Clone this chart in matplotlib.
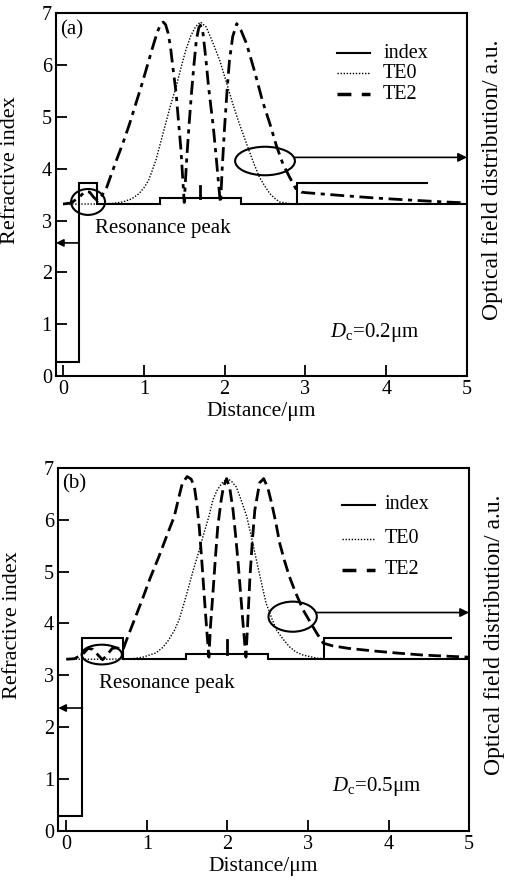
import matplotlib
matplotlib.use("Agg")
import matplotlib.pyplot as plt
from matplotlib.patches import Ellipse
from matplotlib.lines import Line2D

plt.rcParams['font.family'] = ['Liberation Serif', 'DejaVu Serif']
plt.rcParams['mathtext.fontset'] = 'custom'
plt.rcParams['mathtext.rm'] = 'Liberation Serif'
plt.rcParams['mathtext.it'] = 'Liberation Serif:italic'

# ---------------- data: panel (a), Dc = 0.2 um ----------------
a_index_x = [-0.2, 0.2, 0.2, 0.42, 0.42, 1.2, 1.2, 2.2, 2.2, 5.0]
a_index_y = [0.28, 0.28, 3.72, 3.72, 3.32, 3.32, 3.44, 3.44, 3.32, 3.32]
a_ridge_x = [2.9, 2.9, 4.5]
a_ridge_y = [3.32, 3.72, 3.72]
a_well_x = [1.7, 1.7]
a_well_y = [3.44, 3.66]

a_te0_x = [0.0, 0.4, 0.6, 0.74, 0.85, 0.94, 1.0, 1.06, 1.10, 1.15, 1.21, 1.27, 1.33,
           1.40, 1.46, 1.52, 1.58, 1.64, 1.70, 1.77, 1.85, 1.94, 2.02, 2.10, 2.18,
           2.27, 2.35, 2.43, 2.50, 2.56, 2.62, 2.68, 2.80, 2.90, 5.0]
a_te0_y = [3.32, 3.32, 3.33, 3.36, 3.42, 3.52, 3.63, 3.78, 3.95, 4.17, 4.52, 4.87, 5.22,
           5.58, 5.95, 6.29, 6.56, 6.74, 6.83, 6.74, 6.45, 6.09, 5.68, 5.26, 4.88,
           4.49, 4.15, 3.84, 3.66, 3.52, 3.43, 3.36, 3.33, 3.32, 3.32]

a_te2_x = [0.0, 0.1, 0.2, 0.27, 0.33, 0.38, 0.43, 0.48, 0.54, 0.60, 0.66, 0.74, 0.82,
           0.90, 0.98, 1.06, 1.12, 1.17, 1.21, 1.24, 1.27, 1.30, 1.33, 1.36, 1.40,
           1.43, 1.46, 1.48, 1.50, 1.53, 1.56, 1.59, 1.62, 1.65, 1.68, 1.70, 1.73,
           1.77, 1.80, 1.83, 1.86, 1.90, 1.94, 1.95, 1.97, 2.00, 2.03, 2.06, 2.10,
           2.15, 2.20, 2.27, 2.33, 2.39, 2.47, 2.56, 2.64, 2.72, 2.80, 2.88, 2.95,
           3.0, 3.4, 3.83, 4.25, 4.6, 5.0]
a_te2_y = [3.32, 3.34, 3.45, 3.56, 3.55, 3.45, 3.38, 3.48, 3.64, 3.90, 4.16, 4.49, 4.85,
           5.25, 5.65, 6.08, 6.40, 6.65, 6.79, 6.83, 6.78, 6.62, 6.35, 5.95, 5.46,
           4.90, 4.36, 3.85, 3.35, 4.17, 4.85, 5.46, 6.00, 6.48, 6.72, 6.77, 6.65,
           6.09, 5.60, 5.20, 4.81, 4.15, 3.46, 3.34, 4.00, 4.81, 5.50, 6.09, 6.55,
           6.80, 6.68, 6.42, 6.10, 5.77, 5.30, 4.87, 4.45, 4.10, 3.85, 3.62, 3.55,
           3.54, 3.49, 3.44, 3.40, 3.37, 3.34]

# ---------------- data: panel (b), Dc = 0.5 um ----------------
b_index_x = [-0.2, 0.2, 0.2, 0.7, 0.7, 1.48, 1.48, 2.5, 2.5, 5.0]
b_index_y = [0.28, 0.28, 3.72, 3.72, 3.31, 3.31, 3.42, 3.42, 3.31, 3.31]
b_ridge_x = [3.2, 3.2, 4.78]
b_ridge_y = [3.31, 3.72, 3.72]
b_well_x = [2.0, 2.0]
b_well_y = [3.42, 3.68]

b_te0_x = [0.0, 0.5, 0.82, 0.95, 1.11, 1.20, 1.27, 1.34, 1.40, 1.46, 1.52, 1.58, 1.65,
           1.71, 1.77, 1.82, 1.87, 1.93, 2.00, 2.05, 2.11, 2.17, 2.24, 2.30, 2.36,
           2.42, 2.48, 2.55, 2.61, 2.69, 2.77, 2.85, 2.94, 3.11, 3.3, 5.0]
b_te0_y = [3.31, 3.31, 3.32, 3.35, 3.43, 3.54, 3.68, 3.86, 4.07, 4.38, 4.71, 5.05, 5.41,
           5.75, 6.06, 6.38, 6.56, 6.70, 6.79, 6.74, 6.63, 6.38, 6.06, 5.65, 5.22,
           4.80, 4.39, 4.10, 3.87, 3.70, 3.55, 3.45, 3.39, 3.33, 3.31, 3.31]

b_te2_x = [0.0, 0.1, 0.2, 0.27, 0.33, 0.40, 0.45, 0.50, 0.57, 0.63, 0.70, 0.74, 0.84,
           0.94, 1.04, 1.15, 1.25, 1.34, 1.40, 1.44, 1.50, 1.55, 1.59, 1.62, 1.65,
           1.68, 1.71, 1.73, 1.75, 1.77, 1.79, 1.82, 1.85, 1.88, 1.92, 1.95, 1.99,
           2.03, 2.07, 2.10, 2.13, 2.16, 2.19, 2.21, 2.23, 2.25, 2.28, 2.31, 2.34,
           2.40, 2.45, 2.50, 2.55, 2.60, 2.65, 2.71, 2.77, 2.85, 2.94, 3.03, 3.11,
           3.19, 3.30, 3.50, 3.81, 4.10, 4.43, 4.70, 5.0]
b_te2_y = [3.31, 3.32, 3.40, 3.52, 3.50, 3.38, 3.30, 3.38, 3.52, 3.53, 3.48, 3.65, 4.05,
           4.45, 4.87, 5.29, 5.70, 6.06, 6.45, 6.70, 6.83, 6.78, 6.63, 6.30, 5.86,
           5.25, 4.58, 4.15, 3.74, 3.35, 3.95, 4.58, 5.25, 5.86, 6.35, 6.63, 6.79,
           6.60, 6.18, 5.72, 5.22, 4.65, 4.07, 3.70, 3.35, 3.95, 4.90, 5.60, 6.18,
           6.71, 6.79, 6.62, 6.31, 5.95, 5.54, 5.20, 4.90, 4.58, 4.26, 4.02, 3.81,
           3.62, 3.57, 3.52, 3.47, 3.43, 3.39, 3.37, 3.35]

xticks = [0, 1, 2, 3, 4, 5]
yticks = [0, 1, 2, 3, 4, 5, 6, 7]
legend_labels = ['index', 'TE0', 'TE2']

panels = [
    dict(rect=[0.110, 0.575, 0.8075, 0.410], xmin=-0.087, tag='(a)', dc=r'$D_{\rm c}$=0.2μm',
         ix=a_index_x, iy=a_index_y, rx=a_ridge_x, ry=a_ridge_y, wx=a_well_x, wy=a_well_y,
         t0x=a_te0_x, t0y=a_te0_y, t2x=a_te2_x, t2y=a_te2_y,
         te2ls=(0, (5, 2, 1.5, 2)),
         small_ell=(0.31, 3.36, 0.42, 0.50), big_ell=(2.50, 4.15, 0.74, 0.55),
         larrow_y=2.57, rarrow=(2.87, 4.22),
         leg_rows=[0.890, 0.835, 0.777], leg_hx=(0.684, 0.764), leg_tx=0.796),
    dict(rect=[0.1145, 0.061, 0.807, 0.4105], xmin=-0.10, tag='(b)', dc=r'$D_{\rm c}$=0.5μm',
         ix=b_index_x, iy=b_index_y, rx=b_ridge_x, ry=b_ridge_y, wx=b_well_x, wy=b_well_y,
         t0x=b_te0_x, t0y=b_te0_y, t2x=b_te2_x, t2y=b_te2_y,
         te2ls=(0, (4.5, 2)),
         small_ell=(0.44, 3.40, 0.50, 0.38), big_ell=(2.81, 4.13, 0.60, 0.58),
         larrow_y=2.37, rarrow=(3.11, 4.21),
         leg_rows=[0.898, 0.804, 0.719], leg_hx=(0.690, 0.771), leg_tx=0.795),
]

fig = plt.figure(figsize=(5.09, 8.85), dpi=100)

for p in panels:
    ax = fig.add_axes(p['rect'])
    ax.plot(p['ix'], p['iy'], color='black', lw=1.5, solid_joinstyle='miter')
    ax.plot(p['rx'], p['ry'], color='black', lw=1.5, solid_joinstyle='miter')
    ax.plot(p['wx'], p['wy'], color='black', lw=2.0)
    ax.plot(p['t0x'], p['t0y'], color='black', lw=1.0, linestyle=(0, (1, 1.2)))
    ax.plot(p['t2x'], p['t2y'], color='black', lw=2.0, linestyle=p['te2ls'])

    for (cx, cy, w, h) in (p['small_ell'], p['big_ell']):
        ax.add_patch(Ellipse((cx, cy), w, h, fill=False, edgecolor='black', lw=1.5))

    ax.annotate('', xy=(p['xmin'], p['larrow_y']), xytext=(0.2, p['larrow_y']),
                arrowprops=dict(arrowstyle='-|>', color='black', lw=1.2,
                                mutation_scale=11, shrinkA=0, shrinkB=0),
                annotation_clip=False)
    ax.annotate('', xy=(5.0, p['rarrow'][1]), xytext=p['rarrow'],
                arrowprops=dict(arrowstyle='-|>', color='black', lw=1.2,
                                mutation_scale=13, shrinkA=0, shrinkB=0),
                annotation_clip=False)

    ax.set_xlim(p['xmin'], 5.0)
    ax.set_ylim(0, 7)
    ax.set_xticks(xticks)
    ax.set_yticks(yticks)
    ax.tick_params(direction='in', length=8, width=1.3, labelsize=14.5, pad=3,
                   top=False, right=False)
    for s in ax.spines.values():
        s.set_linewidth(1.5)

    ax.set_xlabel('Distance/μm', fontsize=15.5, labelpad=2)
    ax.set_ylabel('Refractive index', fontsize=16)
    ax.yaxis.set_label_coords(-0.088, 0.567)
    ax.text(1.062, 0.54, 'Optical field distribution/ a.u.', transform=ax.transAxes,
            rotation=90, fontsize=17, ha='center', va='center')

    ax.text(0.01, 0.955, p['tag'], transform=ax.transAxes, fontsize=15,
            ha='left', va='center')
    ax.text(0.40, 2.85, 'Resonance peak', fontsize=15, ha='left', va='center')
    ax.text(3.30, 0.85, p['dc'], fontsize=15, ha='left', va='center')

    # legend
    styles = [dict(lw=1.5, linestyle='-'), dict(lw=1.0, linestyle=(0, (1, 1.2))),
              dict(lw=2.5, linestyle=(0, (4, 3)))]
    for lab, ry, st in zip(legend_labels, p['leg_rows'], styles):
        ax.add_line(Line2D(list(p['leg_hx']), [ry, ry], transform=ax.transAxes,
                           color='black', **st))
        ax.text(p['leg_tx'], ry, lab, transform=ax.transAxes, fontsize=14.5,
                ha='left', va='center')

fig.savefig('out.png', dpi=100)
